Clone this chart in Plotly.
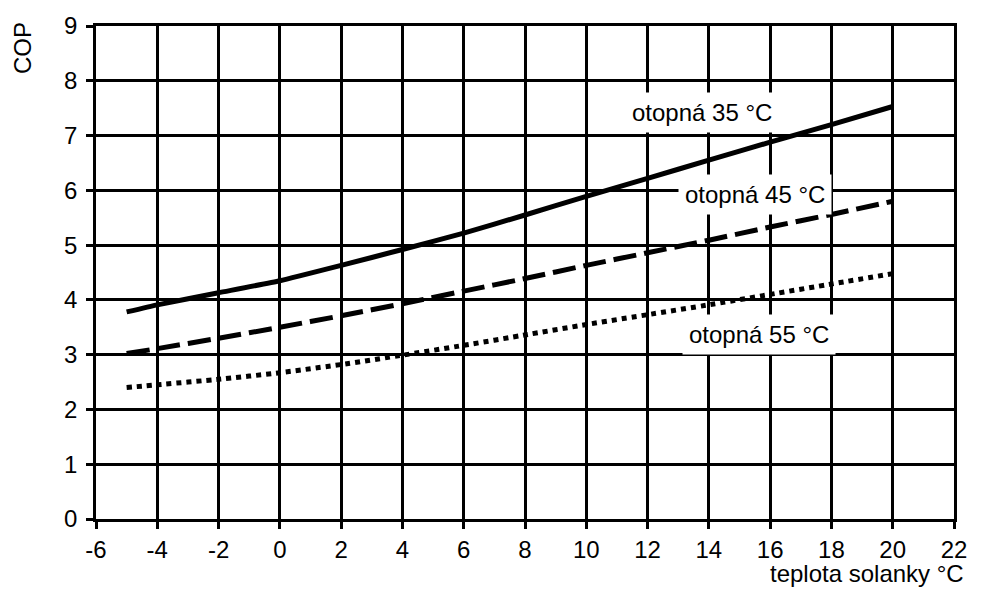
import plotly.graph_objects as go

# Brine temperature (°C) and COP for three heating-water temperatures
brine_temp = [-5, -4, -2, 0, 2, 4, 6, 8, 10, 12, 14, 16, 18, 20]
cop_35 = [3.78, 3.91, 4.13, 4.35, 4.63, 4.92, 5.22, 5.55, 5.89, 6.22, 6.55, 6.88, 7.20, 7.53]
cop_45 = [3.02, 3.11, 3.30, 3.50, 3.71, 3.93, 4.16, 4.39, 4.63, 4.86, 5.09, 5.33, 5.56, 5.80]
cop_55 = [2.40, 2.45, 2.55, 2.67, 2.82, 2.99, 3.17, 3.36, 3.55, 3.73, 3.91, 4.10, 4.29, 4.48]

series_labels = ["otopná 35 °C", "otopná 45 °C", "otopná 55 °C"]
x_ticks = list(range(-6, 23, 2))
y_ticks = list(range(0, 10))

FONT = "Liberation Sans, Arial, sans-serif"
FS = 24

fig = go.Figure()
for y, dash, w in [(cop_35, "solid", 5), (cop_45, "23px,8px", 5), (cop_55, "5px,5px", 5)]:
    fig.add_trace(go.Scatter(
        x=brine_temp, y=y, mode="lines",
        line=dict(color="black", width=w, dash=dash, shape="spline", smoothing=0.4),
        showlegend=False, hoverinfo="skip",
    ))

# in-plot labels on white boxes
label_pos = [(13.78, 7.42), (15.49, 5.92), (15.62, 3.37)]
for text, (lx, ly) in zip(series_labels, label_pos):
    fig.add_annotation(x=lx, y=ly, text=text, showarrow=False,
                       font=dict(family=FONT, size=FS, color="black"),
                       bgcolor="white", borderpad=6)

# axis titles
fig.add_annotation(x=1, xref="paper", xanchor="right", xshift=12,
                   y=-0.111, yref="paper", yanchor="middle",
                   text="teplota solanky °C", showarrow=False,
                   font=dict(family=FONT, size=FS, color="black"))
fig.add_annotation(x=0, xref="paper", xanchor="center", xshift=-74,
                   y=1.0, yref="paper", yanchor="top", yshift=6,
                   text="COP", textangle=-90, showarrow=False,
                   font=dict(family=FONT, size=FS, color="black"))

axis_common = dict(
    showgrid=True, gridcolor="black", gridwidth=2.6,
    showline=True, linecolor="black", linewidth=2.6, mirror=True,
    zeroline=True, zerolinecolor="black", zerolinewidth=2.6,
    ticks="outside", ticklen=7, tickwidth=2.6, tickcolor="black",
    tickfont=dict(family=FONT, size=FS, color="black"),
)
fig.update_xaxes(range=[-6, 22], tickvals=x_ticks, ticktext=[str(t) for t in x_ticks],
                 **axis_common)
fig.update_yaxes(range=[0, 9], tickvals=y_ticks, ticktext=[str(t) for t in y_ticks],
                 ticklabelstandoff=4, **axis_common)

fig.update_layout(
    width=989, height=592,
    margin=dict(l=96, r=35, t=19, b=73),
    plot_bgcolor="white", paper_bgcolor="white",
    font=dict(family=FONT, color="black"),
)

fig.write_html("out.html")
